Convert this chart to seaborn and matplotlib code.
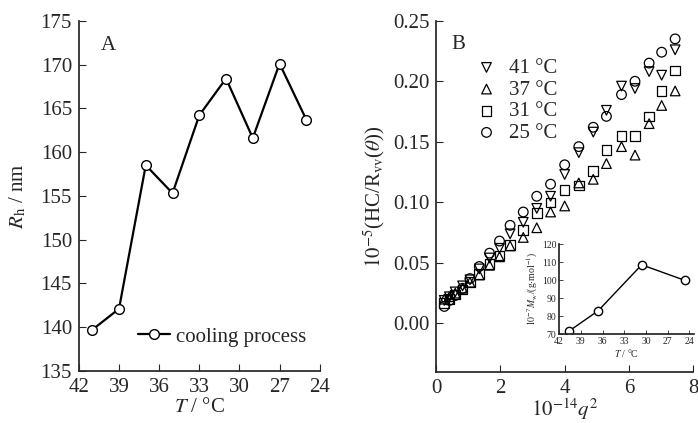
import matplotlib
matplotlib.use('Agg')
import matplotlib.pyplot as plt
import seaborn as sns
import numpy as np

# Panel A: hydrodynamic radius during cooling
temp_a = [41, 39, 37, 35, 33, 31, 29, 27, 25]
rh = [139.7, 142.1, 158.5, 155.3, 164.2, 168.4, 161.6, 170.1, 163.7]

# Panel B: Zimm data, 10^-14 q^2 for each series
q2 = [0.25, 0.41, 0.59, 0.82, 1.05, 1.34, 1.66, 1.97, 2.30, 2.71, 3.13,
      3.56, 4.00, 4.44, 4.89, 5.30, 5.77, 6.19, 6.63, 7.02, 7.44]
hc_41 = [0.019, 0.022, 0.026, 0.031, 0.036, 0.045, 0.054, 0.062, 0.074, 0.0835, 0.095,
         0.105, 0.123, 0.141, 0.158, 0.176, 0.196, 0.194, 0.208, 0.205, 0.226]
hc_37 = [0.020, 0.022, 0.025, 0.029, 0.034, 0.040, 0.048, 0.055, 0.064, 0.071, 0.079,
         0.092, 0.097, 0.116, 0.119, 0.132, 0.146, 0.139, 0.165, 0.180, 0.192]
hc_31 = [0.017, 0.020, 0.024, 0.028, 0.034, 0.041, 0.049, 0.056, 0.065, 0.077, 0.091,
         0.100, 0.110, 0.114, 0.126, 0.143, 0.155, 0.155, 0.171, 0.192, 0.209]
hc_25 = [0.014, 0.019, 0.023, 0.029, 0.037, 0.047, 0.058, 0.068, 0.081, 0.092, 0.105,
         0.115, 0.131, 0.146, 0.162, 0.171, 0.189, 0.200, 0.215, 0.224, 0.235]

# Inset: weight-average molar mass
temp_in = [40.6, 36.6, 30.6, 24.6]
mw = [71.8, 83.0, 108.5, 99.8]

series_b = [('41 °C', 'v', hc_41), ('37 °C', '^', hc_37),
            ('31 °C', 's', hc_31), ('25 °C', 'o', hc_25)]

sns.set_theme(style='ticks')
plt.rcParams['font.family'] = ['Liberation Serif', 'DejaVu Serif']
plt.rcParams['mathtext.fontset'] = 'stix'
plt.rcParams['xtick.direction'] = 'in'
plt.rcParams['ytick.direction'] = 'in'

fig = plt.figure(figsize=(6.98, 4.23), dpi=100)

# ---- panel A
ax1 = fig.add_axes([0.113, 0.123, 0.345, 0.828])
sns.lineplot(x=temp_a, y=rh, ax=ax1, color='black', linewidth=1.6, marker='o',
             markersize=7, markerfacecolor='white', markeredgecolor='black',
             markeredgewidth=1.0, label='cooling process')
ax1.set_xlim(42, 24)
ax1.set_ylim(135, 175)
ax1.set_xticks(range(42, 23, -3))
ax1.set_yticks(range(135, 176, 5))
ax1.tick_params(labelsize=15, length=5, width=0.8, pad=5)
ax1.set_xlabel(r'$T$ / °C', fontsize=15, labelpad=1)
ax1.set_ylabel(r'$R_{\rm h}$ / nm', fontsize=15, labelpad=9)
ax1.text(0.124, 0.928, 'A', transform=ax1.transAxes, fontsize=15,
         ha='center', va='center')
ax1.legend(loc='center left', bbox_to_anchor=(0.245, 0.097), frameon=False,
           fontsize=15, borderpad=0, borderaxespad=0, handlelength=1.55,
           handletextpad=0.3)
sns.despine(ax=ax1)

# ---- panel B
ax2 = fig.add_axes([0.625, 0.121, 0.368, 0.830])
for label, mk, vals in series_b:
    sns.scatterplot(x=q2, y=vals, ax=ax2, marker=mk, s=48, facecolor='none',
                    edgecolor='black', linewidth=0.9, label=label)
ax2.set_xlim(0, 8)
ax2.set_ylim(-0.04, 0.25)
ax2.set_xticks([0, 2, 4, 6, 8])
ax2.set_yticks(np.arange(0, 0.26, 0.05))
ax2.yaxis.set_major_formatter(matplotlib.ticker.FormatStrFormatter('%.2f'))
ax2.tick_params(labelsize=15, length=5, width=0.8, pad=5)
ax2.set_xlabel(r'$10^{-14}q^{2}$', fontsize=15, labelpad=-1)
ax2.set_ylabel(r'$10^{-5}$(HC/R$_{\rm vv}$($\theta$))', fontsize=15, labelpad=4)
ax2.text(0.086, 0.931, 'B', transform=ax2.transAxes, fontsize=15,
         ha='center', va='center')
ax2.legend(loc='upper left', bbox_to_anchor=(0.155, 0.893), frameon=False,
           fontsize=15, borderpad=0, borderaxespad=0, handlelength=1.0,
           handletextpad=0.6, labelspacing=0.1)
sns.despine(ax=ax2)

# ---- inset
ax3 = fig.add_axes([0.801, 0.210, 0.193, 0.213])
ax3.patch.set_alpha(0)
sns.lineplot(x=temp_in, y=mw, ax=ax3, color='black', linewidth=1.0, marker='o',
             markersize=6, markerfacecolor='white', markeredgecolor='black',
             markeredgewidth=1.0)
ax3.set_xlim(42, 23.4)
ax3.set_ylim(70, 120)
ax3.set_xticks(range(42, 23, -3))
ax3.set_yticks(range(70, 121, 10))
ax3.tick_params(labelsize=7, length=3, width=0.6, pad=2)
ax3.set_xlabel(r'$T$ / °C', fontsize=7, labelpad=1)
ax3.set_ylabel(r'$10^{-7}M_{\rm w}$/(g$\cdot$mol$^{-1}$)', fontsize=7, labelpad=1)
sns.despine(ax=ax3)

fig.savefig('out.png', dpi=100)
